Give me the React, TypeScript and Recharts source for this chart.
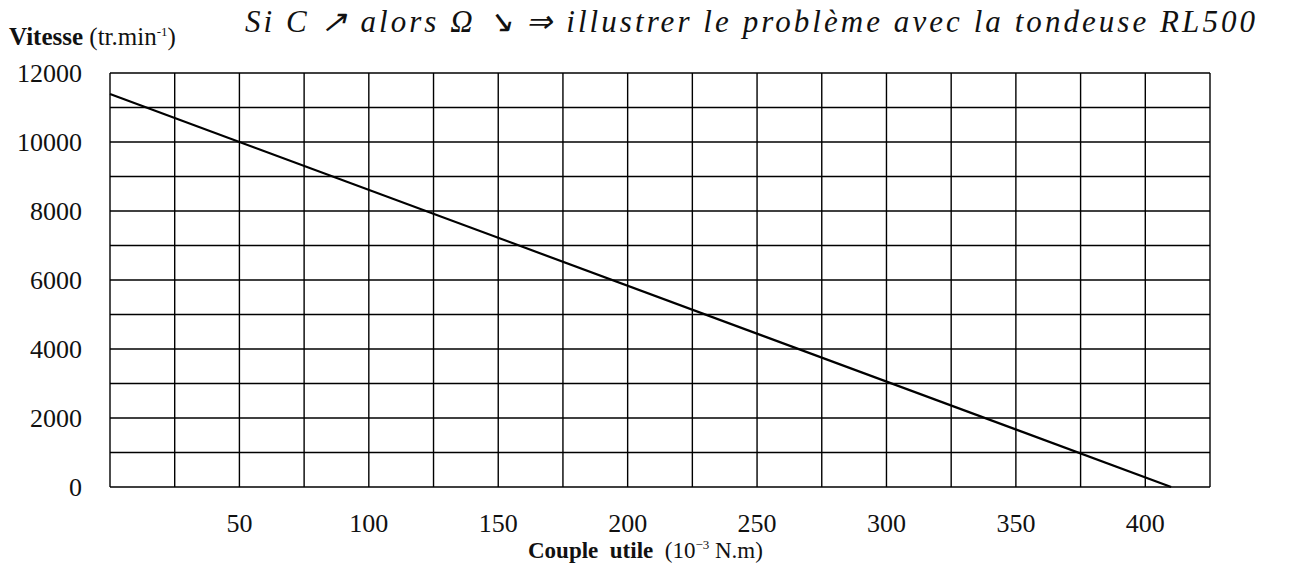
import { LineChart, Line, XAxis, YAxis, CartesianGrid } from "recharts";

// Couple utile (10^-3 N.m) -> Vitesse (tr/min)
const couple = [0, 410];
const vitesse = [11390, 0];

const coupleTicks = [0, 25, 50, 75, 100, 125, 150, 175, 200, 225, 250, 275, 300, 325, 350, 375, 400, 425];
const vitesseTicks = [0, 1000, 2000, 3000, 4000, 5000, 6000, 7000, 8000, 9000, 10000, 11000, 12000];

const data = couple.map((c, i) => ({ couple: c, vitesse: vitesse[i] }));

const serif = "'Liberation Serif', 'Times New Roman', serif";
const tickStyle = { fontSize: 26, fill: "#111", fontFamily: serif };

export default function App() {
  return (
    <div
      style={{
        position: "absolute",
        left: 0,
        top: 0,
        width: 1289,
        height: 569,
        background: "#fff",
        fontFamily: serif,
        color: "#111",
      }}
    >
      <svg width={1289} height={46} style={{ position: "absolute", left: 0, top: 0 }}>
        <text
          x={245}
          y={32}
          textLength={1010}
          lengthAdjust="spacing"
          fontSize={31}
          fontStyle="italic"
          fontFamily={serif}
          fill="#111"
        >
          Si C ↗ alors Ω ↘ ⇒ illustrer le problème avec la tondeuse RL500
        </text>
      </svg>

      <div style={{ position: "absolute", left: 9, top: 23, fontSize: 25, whiteSpace: "nowrap" }}>
        <b>Vitesse</b> (tr.min<sup style={{ fontSize: 13 }}>-1</sup>)
      </div>

      <LineChart
        width={1289}
        height={569}
        data={data}
        margin={{ top: 73, right: 79, left: 0, bottom: 0 }}
      >
        <CartesianGrid stroke="#000" strokeWidth={1.4} />
        <XAxis
          type="number"
          dataKey="couple"
          domain={[0, 425]}
          ticks={coupleTicks}
          interval={0}
          height={82}
          axisLine={false}
          tickLine={false}
          tickSize={0}
          tickMargin={27}
          tick={tickStyle}
          tickFormatter={(v: number) => (v > 0 && v % 50 === 0 ? String(v) : "")}
        />
        <YAxis
          type="number"
          domain={[0, 12000]}
          ticks={vitesseTicks}
          interval={0}
          width={110}
          axisLine={false}
          tickLine={false}
          tickSize={0}
          tickMargin={28}
          tick={tickStyle}
          tickFormatter={(v: number) => (v % 2000 === 0 ? String(v) : "")}
        />
        <Line
          type="linear"
          dataKey="vitesse"
          stroke="#000"
          strokeWidth={2.2}
          dot={false}
          isAnimationActive={false}
        />
      </LineChart>

      <div
        style={{
          position: "absolute",
          left: 528,
          top: 537,
          fontSize: 23,
          whiteSpace: "nowrap",
        }}
      >
        <b>Couple&nbsp; utile</b>&nbsp; (10<sup style={{ fontSize: 13 }}>−3</sup> N.m)
      </div>
    </div>
  );
}
